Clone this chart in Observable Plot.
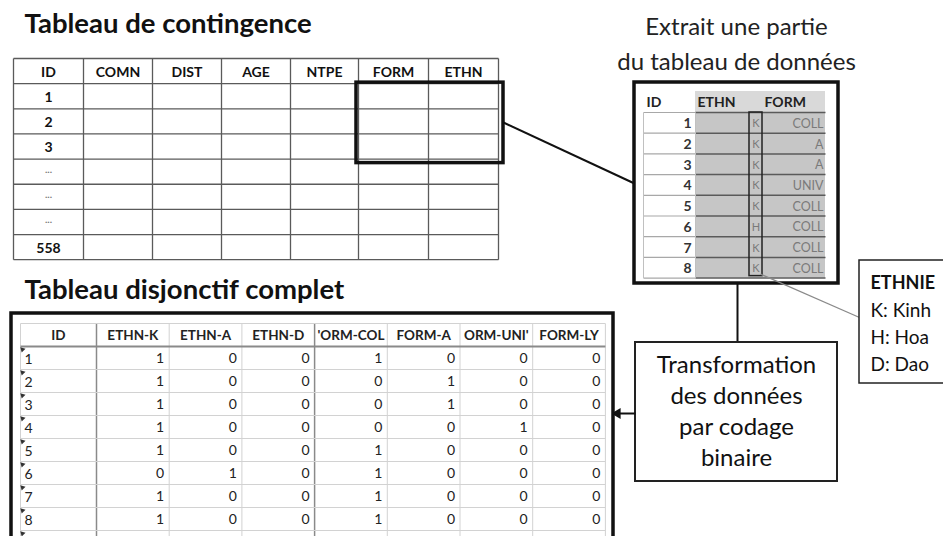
<!DOCTYPE html>
<html><head><meta charset="utf-8">
<script src="https://cdn.jsdelivr.net/npm/d3@7"></script>
<script src="https://cdn.jsdelivr.net/npm/@observablehq/plot@0.6"></script>
<style>body{margin:0;background:#fff}svg{display:block}</style>
</head><body><div id="chart"></div>
<script>
// ---- data ----
const titleTop = "Tableau de contingence";
const titleBottom = "Tableau disjonctif complet";
const extractCaption = ["Extrait une partie", "du tableau de données"];
const topColumns = ["ID", "COMN", "DIST", "AGE", "NTPE", "FORM", "ETHN"];
const topRowLabels = ["1", "2", "3", "...", "...", "...", "558"];
const extractColumns = ["ID", "ETHN", "FORM"];
const extractIds = ["1", "2", "3", "4", "5", "6", "7", "8"];
const extractEthn = ["K", "K", "K", "K", "K", "H", "K", "K"];
const extractForm = ["COLL", "A", "A", "UNIV", "COLL", "COLL", "COLL", "COLL"];
const legendTitle = "ETHNIE";
const legendItems = ["K: Kinh", "H: Hoa", "D: Dao"];
const transformLines = ["Transformation", "des données", "par codage", "binaire"];
const disjColumns = ["ID", "ETHN-K", "ETHN-A", "ETHN-D", "'ORM-COL", "FORM-A", "ORM-UNI'", "FORM-LY"];
const disjIds = ["1", "2", "3", "4", "5", "6", "7", "8"];
const ethnK   = [1, 1, 1, 1, 1, 0, 1, 1];
const ethnA   = [0, 0, 0, 0, 0, 1, 0, 0];
const ethnD   = [0, 0, 0, 0, 0, 0, 0, 0];
const formCol = [1, 0, 0, 0, 1, 1, 1, 1];
const formA   = [0, 1, 1, 0, 0, 0, 0, 0];
const formUni = [0, 0, 0, 1, 0, 0, 0, 0];
const formLy  = [0, 0, 0, 0, 0, 0, 0, 0];
const disjSeries = [ethnK, ethnA, ethnD, formCol, formA, formUni, formLy];

// ---- layout ----
const F = "Lato, 'Open Sans', sans-serif";
// top table
const T = {cols: [13, 83, 152, 221, 290, 358, 428, 498], y0: 58, rh: 25.15};
const tRows = topRowLabels.length + 1;
const tRowY = d3.range(tRows + 1).map(i => T.y0 + i * T.rh);
const topLines = [
  ...T.cols.map(x => ({x1: x, x2: x, y1: T.y0, y2: tRowY[tRows]})),
  ...tRowY.map(y => ({x1: T.cols[0], x2: T.cols.at(-1), y1: y, y2: y}))
];
const topHeader = topColumns.map((t, i) => ({t, x: (T.cols[i] + T.cols[i + 1]) / 2, y: T.y0 + T.rh / 2 + 1}));
const topIds = topRowLabels.map((t, i) => ({t, x: (T.cols[0] + T.cols[1]) / 2, y: tRowY[i + 1] + T.rh / 2 + (t === "..." ? -2 : 1)}));
const highlight = {x1: 356, x2: 503, y1: tRowY[1] - 1, y2: tRowY[4] + 4};

// extract table
const E = {outer: {x1: 634, x2: 838, y1: 82, y2: 283}, cols: [643, 695, 762, 825], k: [749, 762], y0: 91, hh: 21, rh: 20.7};
const eRowY = d3.range(extractIds.length + 1).map(i => E.y0 + E.hh + i * E.rh);
const eBottom = eRowY.at(-1);
const extractRows = extractIds.map((id, i) => ({id, ethn: extractEthn[i], form: extractForm[i], y: eRowY[i] + E.rh / 2 + 1}));

// legend box
const L = {x1: 859, x2: 960, y1: 260, y2: 383, x: 870, y0: 283, dy: 27};
// transformation box
const B = {x1: 635, x2: 837, y1: 342, y2: 481, cx: 736, y0: 365, dy: 31};

// bottom table
const D = {outer: {x1: 11, x2: 613, y1: 313, y2: 560}, x0: 20, idW: 76, cw: 72.7, y0: 323, hh: 23, rh: 23, nRows: 9};
const dCols = [D.x0, D.x0 + D.idW, ...d3.range(1, disjSeries.length + 1).map(i => D.x0 + D.idW + i * D.cw)];
const dRowY = [D.y0, ...d3.range(D.nRows + 1).map(i => D.y0 + D.hh + i * D.rh)];
const dHeader = disjColumns.map((t, i) => ({t, x: (dCols[i] + dCols[i + 1]) / 2, y: D.y0 + D.hh / 2 + 1}));
const dValues = disjSeries.flatMap((s, c) => s.map((v, r) => ({v, x: dCols[c + 2] - 5, y: dRowY[r + 1] + D.rh / 2 + 1})));
const dIds = disjIds.map((t, r) => ({t, x: D.x0 + 4, y: dRowY[r + 1] + D.rh / 2 + 2}));
const dDark = new Set([1, 4]);
const dLines = [
  ...dCols.map((x, i) => ({x1: x, x2: x, y1: D.y0, y2: 545, s: dDark.has(i) ? "#8a8a8a" : "#d2d2d2", w: dDark.has(i) ? 1.5 : 1})),
  ...dRowY.map((y, i) => ({x1: dCols[0], x2: dCols.at(-1), y1: y, y2: y, s: i === 1 ? "#8a8a8a" : "#d2d2d2", w: i === 1 ? 2 : 1}))
];
const marks = d3.range(D.nRows).map(r => ({x: D.x0 + 2, y: dRowY[r + 1] + 3}));

const chart = Plot.plot({
  width: 943, height: 536, margin: 0,
  x: {domain: [0, 943], range: [0, 943], axis: null},
  y: {domain: [0, 536], range: [0, 536], axis: null},
  style: {fontFamily: F, background: "#fff", overflow: "hidden"},
  marks: [
    // titles
    Plot.text([titleTop], {x: 24, y: 24, text: d => d, textAnchor: "start", fontSize: 27.5, fontWeight: "bold", fill: "#111"}),
    Plot.text(extractCaption, {x: 736, y: (d, i) => 27 + i * 34.5, text: d => d, fontSize: 24, fill: "#222"}),
    Plot.text([titleBottom], {x: 24, y: 290, text: d => d, textAnchor: "start", fontSize: 27.5, fontWeight: "bold", fill: "#111"}),

    // top table
    Plot.link(topLines, {x1: "x1", x2: "x2", y1: "y1", y2: "y2", stroke: "#5a5a5a", strokeWidth: 1.3}),
    Plot.text(topHeader, {x: "x", y: "y", text: "t", fontSize: 14, fontWeight: "bold", fill: "#111"}),
    Plot.text(topIds, {x: "x", y: "y", text: "t", fontSize: d => d.t === "..." ? 10 : 14, fontWeight: "bold", fill: d => d.t === "..." ? "#777" : "#111"}),
    Plot.rect([highlight], {x1: "x1", x2: "x2", y1: "y1", y2: "y2", fill: "none", stroke: "#111", strokeWidth: 3.5}),
    Plot.link([{}], {x1: highlight.x2, y1: 122, x2: E.outer.x1, y2: 183, stroke: "#111", strokeWidth: 2}),

    // extract table
    Plot.rect([E.outer], {x1: "x1", x2: "x2", y1: "y1", y2: "y2", fill: "#fff", stroke: "#111", strokeWidth: 3.5}),
    Plot.rect([{}], {x1: E.cols[1], x2: E.cols[3], y1: E.y0, y2: E.y0 + E.hh, fill: "#d9d9d9"}),
    Plot.rect([{}], {x1: E.cols[1], x2: E.cols[3], y1: E.y0 + E.hh, y2: eBottom, fill: "#c6c6c6"}),
    Plot.link(eRowY, {x1: E.cols[0], x2: E.cols[1], y1: d => d, y2: d => d, stroke: "#a8a8a8", strokeWidth: 1.2}),
    Plot.link(eRowY, {x1: E.cols[1], x2: E.cols[3], y1: d => d, y2: d => d, stroke: "#5a5a5a", strokeWidth: 1.5}),
    Plot.link([E.cols[0], E.cols[1]], {x1: d => d, x2: d => d, y1: E.y0 + E.hh, y2: eBottom, stroke: "#c0c0c0", strokeWidth: 1}),
    Plot.text(extractColumns, {x: (d, i) => [E.cols[0] + 3, E.cols[1] + 2, E.cols[2] + 2][i], y: E.y0 + E.hh / 2 + 1, text: d => d, textAnchor: "start", fontSize: 14, fontWeight: "bold", fill: "#222"}),
    Plot.text(extractRows, {x: E.cols[1] - 4, y: "y", text: "id", textAnchor: "end", fontSize: 14, fontWeight: "bold", fill: "#333"}),
    Plot.text(extractRows, {x: (E.k[0] + E.k[1]) / 2, y: "y", text: "ethn", fontSize: 11, fill: "#7a7a7a"}),
    Plot.text(extractRows, {x: E.cols[3] - 2, y: "y", text: "form", textAnchor: "end", fontSize: 12.5, fill: "#7a7a7a"}),
    Plot.rect([{}], {x1: E.k[0], x2: E.k[1], y1: E.y0 + E.hh, y2: eBottom - 2, fill: "none", stroke: "#222", strokeWidth: 1.5}),

    // connectors
    Plot.link([{}], {x1: E.k[1] - 2, y1: eBottom - 4, x2: L.x1, y2: 317, stroke: "#8a8a8a", strokeWidth: 1.2}),
    Plot.link([{}], {x1: 737, x2: 737, y1: E.outer.y2, y2: B.y1, stroke: "#111", strokeWidth: 2}),

    // legend
    Plot.rect([L], {x1: "x1", x2: "x2", y1: "y1", y2: "y2", fill: "#fff", stroke: "#222", strokeWidth: 1.5}),
    Plot.text([legendTitle], {x: L.x, y: L.y0, text: d => d, textAnchor: "start", fontSize: 18, fontWeight: "bold", fill: "#111"}),
    Plot.text(legendItems, {x: L.x, y: (d, i) => L.y0 + (i + 1) * L.dy, text: d => d, textAnchor: "start", fontSize: 19, fill: "#111"}),

    // transformation box
    Plot.rect([B], {x1: "x1", x2: "x2", y1: "y1", y2: "y2", fill: "#fff", stroke: "#222", strokeWidth: 2}),
    Plot.text(transformLines, {x: B.cx, y: (d, i) => B.y0 + i * B.dy, text: d => d, fontSize: 24, fill: "#111"}),
    Plot.link([{}], {x1: B.x1, x2: D.outer.x2 + 4, y1: 413, y2: 413, stroke: "#111", strokeWidth: 2}),
    Plot.dot([{}], {x: D.outer.x2 + 4, y: 413, symbol: "triangle", r: 4, rotate: -90, fill: "#111", stroke: "none"}),

    // bottom table
    Plot.rect([D.outer], {x1: "x1", x2: "x2", y1: "y1", y2: "y2", fill: "#fff", stroke: "#111", strokeWidth: 3.5}),
    Plot.link(dLines, {x1: "x1", x2: "x2", y1: "y1", y2: "y2", stroke: "s", strokeWidth: "w"}),
    Plot.text(dHeader, {x: "x", y: "y", text: "t", fontSize: 13.5, fontWeight: "bold", fill: "#222"}),
    Plot.text(dValues, {x: "x", y: "y", text: "v", textAnchor: "end", fontSize: 14, fill: "#222"}),
    Plot.text(dIds, {x: "x", y: "y", text: "t", textAnchor: "start", fontSize: 14, fill: "#222"}),
    Plot.dot(marks, {x: "x", y: "y", symbol: "triangle", r: 2, rotate: -45, fill: "#333", stroke: "none"})
  ]
});
document.getElementById("chart").append(chart);
</script></body></html>
